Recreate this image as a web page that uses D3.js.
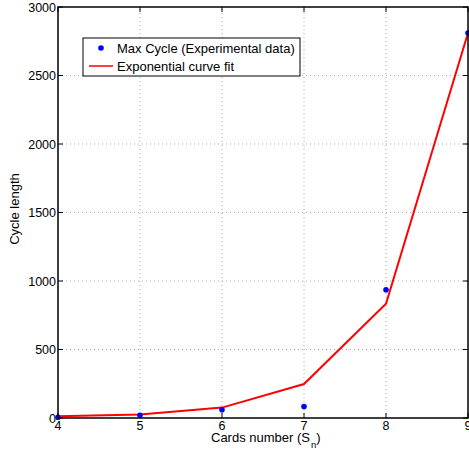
<!DOCTYPE html>
<html>
<head>
<meta charset="utf-8">
<script src="https://cdn.jsdelivr.net/npm/d3@7"></script>
<style>
  body { margin: 0; background: #fff; }
  svg { font-family: "Liberation Sans", Arial, sans-serif; }
</style>
</head>
<body>
<div id="chart"></div>
<script>
// cards number n for S_n
var cards = [4, 5, 6, 7, 8, 9];
// max cycle lengths
var maxCycle = [6, 20, 60, 84, 936, 2810];
// exponential fit evaluated at each n
var expFit = [12, 26, 76, 248, 834, 2810];
var xTicks = [4, 5, 6, 7, 8, 9];
var yTicks = [0, 500, 1000, 1500, 2000, 2500, 3000];

var width = 469, height = 452;
var margin = {top: 7, right: 1, bottom: 34, left: 58};

var svg = d3.select("#chart").append("svg")
    .attr("width", width)
    .attr("height", height);

var x = d3.scaleLinear().domain([4, 9]).range([margin.left, width - margin.right]);
var y = d3.scaleLinear().domain([0, 3000]).range([height - margin.bottom, margin.top]);

var x0 = x.range()[0], x1 = x.range()[1];
var y0 = y.range()[0], y1 = y.range()[1];

// dotted grid
var grid = svg.append("g").attr("class", "grid")
    .style("stroke", "#aaa")
    .style("stroke-width", 1)
    .style("stroke-dasharray", "1,3");
grid.selectAll("line.v").data(xTicks.slice(1, -1)).enter().append("line")
    .attr("x1", function(d) { return x(d); })
    .attr("x2", function(d) { return x(d); })
    .attr("y1", y0).attr("y2", y1);
grid.selectAll("line.h").data(yTicks.slice(1, -1)).enter().append("line")
    .attr("y1", function(d) { return y(d); })
    .attr("y2", function(d) { return y(d); })
    .attr("x1", x0).attr("x2", x1);

// inward ticks on all four sides (matlab style)
var tickLen = 5;
var ticks = svg.append("g").style("stroke", "#000").style("stroke-width", 1);
xTicks.forEach(function(d) {
    ticks.append("line").attr("x1", x(d)).attr("x2", x(d)).attr("y1", y0).attr("y2", y0 - tickLen);
    ticks.append("line").attr("x1", x(d)).attr("x2", x(d)).attr("y1", y1).attr("y2", y1 + tickLen);
});
yTicks.forEach(function(d) {
    ticks.append("line").attr("y1", y(d)).attr("y2", y(d)).attr("x1", x0).attr("x2", x0 + tickLen);
    ticks.append("line").attr("y1", y(d)).attr("y2", y(d)).attr("x1", x1).attr("x2", x1 - tickLen);
});

// tick labels
svg.append("g").selectAll("text").data(xTicks).enter().append("text")
    .attr("x", function(d) { return x(d); })
    .attr("y", y0 + 12)
    .attr("text-anchor", "middle")
    .style("font-size", "12.5px")
    .text(function(d) { return d; });

svg.append("g").selectAll("text").data(yTicks).enter().append("text")
    .attr("x", x0 - 2)
    .attr("y", function(d) { return y(d) + 4.5; })
    .attr("text-anchor", "end")
    .style("font-size", "12.5px")
    .text(function(d) { return d; });

// fit curve
var line = d3.line()
    .x(function(d, i) { return x(cards[i]); })
    .y(function(d) { return y(d); });

svg.append("path")
    .datum(expFit)
    .attr("d", line)
    .style("fill", "none")
    .style("stroke", "#ff0000")
    .style("stroke-width", 2);

// experimental points
svg.append("g").selectAll("circle").data(maxCycle).enter().append("circle")
    .attr("cx", function(d, i) { return x(cards[i]); })
    .attr("cy", function(d) { return y(d); })
    .attr("r", 2.8)
    .style("fill", "#0000ff");

// axes box
svg.append("rect")
    .attr("x", x0).attr("y", y1)
    .attr("width", x1 - x0).attr("height", y0 - y1)
    .style("fill", "none")
    .style("stroke", "#000")
    .style("stroke-width", 1.5);

// axis labels
var xl = svg.append("text")
    .attr("x", 211)
    .attr("y", 442)
    .attr("text-anchor", "start")
    .style("font-size", "13px");
xl.append("tspan").text("Cards number (S");
xl.append("tspan").attr("dy", 6).attr("dx", 1).style("font-size", "9.5px").text("n");
xl.append("tspan").attr("dy", -6).text(")");

svg.append("text")
    .attr("transform", "translate(19," + 209 + ") rotate(-90)")
    .attr("text-anchor", "middle")
    .style("font-size", "13px")
    .text("Cycle length");

// legend
var lg = svg.append("g").attr("transform", "translate(83,38)");
lg.append("rect")
    .attr("width", 217).attr("height", 38)
    .style("fill", "#fff")
    .style("stroke", "#000")
    .style("stroke-width", 1);
lg.append("circle").attr("cx", 18).attr("cy", 10).attr("r", 2.8).style("fill", "#0000ff");
lg.append("text").attr("x", 34).attr("y", 14.5).style("font-size", "13px").text("Max Cycle (Experimental data)");
lg.append("line").attr("x1", 6).attr("x2", 30).attr("y1", 28).attr("y2", 28)
    .style("stroke", "#ff0000").style("stroke-width", 1.5);
lg.append("text").attr("x", 34).attr("y", 32.5).style("font-size", "13px").text("Exponential curve fit");
</script>
</body>
</html>
